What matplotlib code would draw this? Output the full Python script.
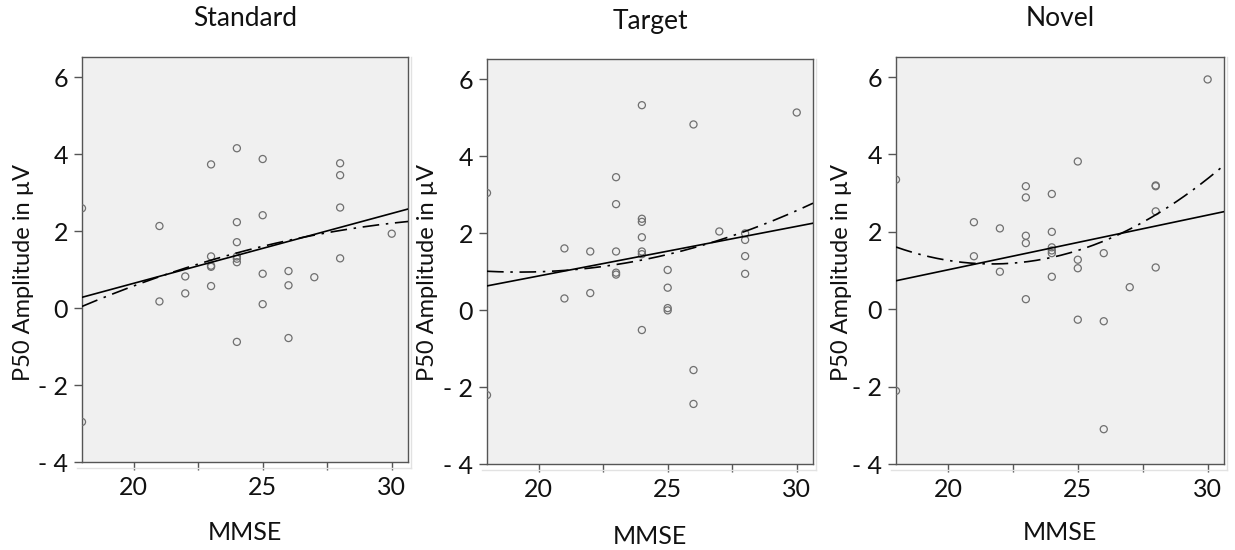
import numpy as np
import matplotlib
matplotlib.use("Agg")
import matplotlib.pyplot as plt
from matplotlib.lines import Line2D
from matplotlib.ticker import FixedLocator, FuncFormatter

plt.rcParams['font.family'] = ['Lato', 'DejaVu Sans']

# ---------------- data ----------------
panel_titles = ["Standard", "Target", "Novel"]
x_label = "MMSE"
y_label = "P50 Amplitude in µV"

standard_mmse = [18, 18, 21, 21, 22, 22, 23, 23, 23, 23, 23, 24, 24, 24, 24, 24, 24, 24,
                 25, 25, 25, 25, 26, 26, 26, 27, 28, 28, 28, 28, 30]
standard_amp = [2.59, -2.96, 2.13, 0.17, 0.82, 0.38, 3.73, 1.34, 1.10, 1.07, 0.57, 4.15, 2.23, 1.71,
                1.34, 1.28, 1.19, -0.88, 3.87, 2.41, 0.89, 0.10, 0.96, 0.59, -0.78, 0.80,
                3.76, 3.45, 2.61, 1.29, 1.93]

target_mmse = [18, 18, 21, 21, 22, 22, 23, 23, 23, 23, 23, 24, 24, 24, 24, 24, 24, 24,
               25, 25, 25, 25, 26, 26, 26, 27, 28, 28, 28, 28, 30]
target_amp = [3.04, -2.21, 1.60, 0.30, 1.52, 0.44, 3.45, 2.75, 1.52, 0.97, 0.92, 5.32, 2.37, 2.29,
              1.89, 1.52, 1.45, -0.52, 1.04, 0.58, 0.05, -0.01, 4.82, -1.56, -2.44, 2.04,
              1.99, 1.82, 1.40, 0.94, 5.13]

novel_mmse = [18, 18, 21, 21, 22, 22, 23, 23, 23, 23, 23, 24, 24, 24, 24, 24, 24,
              25, 25, 25, 25, 26, 26, 26, 27, 28, 28, 28, 28, 30]
novel_amp = [3.35, -2.11, 2.25, 1.37, 2.09, 0.97, 3.18, 2.89, 1.90, 1.71, 0.26, 2.98, 2.00, 1.60,
             1.52, 1.45, 0.84, 3.82, 1.28, 1.06, -0.27, 1.45, -0.31, -3.10, 0.57,
             3.20, 3.18, 2.53, 1.08, 5.94]

x_ticks = [17.5, 20, 22.5, 25, 27.5, 30]
x_ticklabels = {20: "20", 25: "25", 30: "30"}
y_ticks = [-4, -2, 0, 2, 4, 6]
y_ticklabels = ["- 4", "- 2", "0", "2", "4", "6"]

series_x = [standard_mmse, target_mmse, novel_mmse]
series_y = [standard_amp, target_amp, novel_amp]

# ---------------- layout ----------------
W, H = 1235, 550
fig = plt.figure(figsize=(W / 100, H / 100), dpi=100)

# pixel boxes: left, right, top, bottom
boxes = [(82, 408, 57, 462), (487, 813, 59, 464), (896, 1224, 57, 464)]
title_y = [18, 22, 18]
xlab_y = [532, 536, 532]
ylab_x = [24, 428, 841]
ylab_y = 272

FS_TICK = 18
FS_TITLE = 19
FS_XLAB = 18
FS_YLAB = 17
bg = "#f0f0f0"
edge = "#555555"
txt = "#111111"

for i, (l, r, t, b) in enumerate(boxes):
    ax = fig.add_axes([l / W, (H - b) / H, (r - l) / W, (b - t) / H])
    ax.set_facecolor(bg)
    xs = np.array(series_x[i], dtype=float)
    ys = np.array(series_y[i], dtype=float)
    ax.set_xlim(18, 30.63)
    ax.set_ylim(-4, 6.52)

    ax.scatter(xs, ys, s=26, facecolors="none", edgecolors="#707070",
               linewidths=0.9, zorder=3, clip_on=True)

    grid = np.linspace(18, 30.63, 200)
    lin = np.polyfit(xs, ys, 1)
    quad = np.polyfit(xs, ys, 2)
    ax.plot(grid, np.polyval(lin, grid), color="black", lw=1.2, zorder=4)
    ax.plot(grid, np.polyval(quad, grid), color="black", lw=1.2, zorder=4,
            dashes=(10, 4, 1.5, 4))

    ax.xaxis.set_major_locator(FixedLocator(x_ticks))
    ax.xaxis.set_major_formatter(FuncFormatter(lambda v, p: x_ticklabels.get(v, "")))
    ax.set_yticks(y_ticks)
    ax.set_yticklabels(y_ticklabels)
    ax.tick_params(axis="both", direction="out", length=6, width=1.0, color=edge,
                   labelsize=FS_TICK, labelcolor=txt, pad=4)
    for s in ax.spines.values():
        s.set_color(edge)
        s.set_linewidth(1.0)

    # faint outer frame offset
    ax.add_line(Line2D([-0.015, 1.008], [-0.014, -0.014], transform=ax.transAxes,
                       color="#e2e2e2", lw=1.0, clip_on=False))
    ax.add_line(Line2D([1.008, 1.008], [-0.014, 1.0], transform=ax.transAxes,
                       color="#e2e2e2", lw=1.0, clip_on=False))

    fig.text(ylab_x[i] / W, 1 - ylab_y / H, y_label, rotation=90, ha="center",
             va="center", fontsize=FS_YLAB, color=txt)

    cx = (l + r) / 2 / W
    fig.text(cx, 1 - title_y[i] / H, panel_titles[i], ha="center", va="center",
             fontsize=FS_TITLE, color=txt)
    fig.text(cx, 1 - xlab_y[i] / H, x_label, ha="center", va="center",
             fontsize=FS_XLAB, color=txt)

fig.savefig("out.png", dpi=100, facecolor="white")
